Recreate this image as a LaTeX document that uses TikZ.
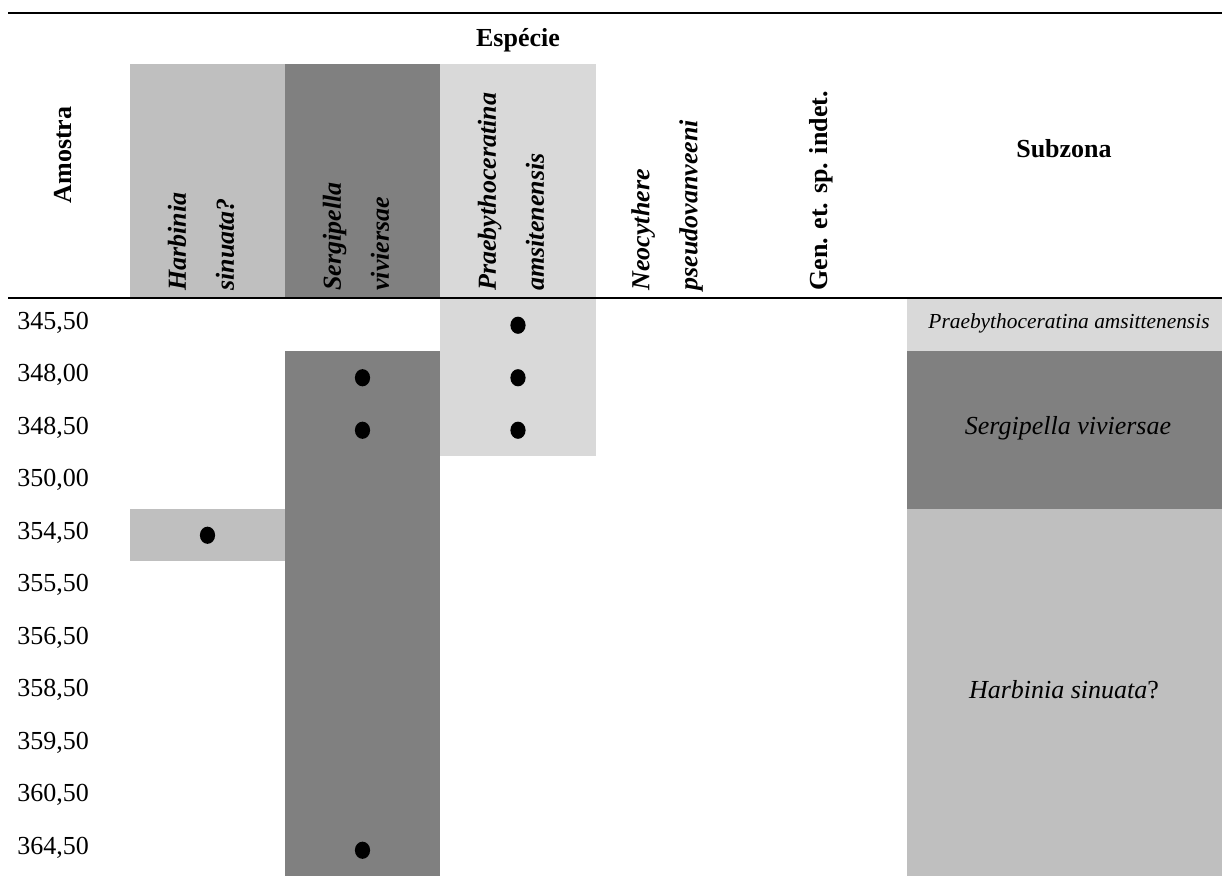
\documentclass[tikz,border=0pt]{standalone}
\usepackage{fontspec}
\setmainfont{Liberation Serif}
\usetikzlibrary{shapes.geometric}
\definecolor{gA}{HTML}{BFBFBF}
\definecolor{gB}{HTML}{808080}
\definecolor{gC}{HTML}{D9D9D9}
\begin{document}
\begin{tikzpicture}[x=0.5pt,y=-0.5pt,
  hdr/.style={font=\fontsize{13}{15}\selectfont\bfseries, inner sep=0},
  spname/.style={rotate=90, anchor=west, align=left, inner sep=0, font=\fontsize{13}{24}\selectfont\bfseries\itshape},
  val/.style={anchor=west, inner sep=0, font=\fontsize{13}{15}\selectfont},
  zone/.style={inner sep=0, font=\fontsize{13}{15}\selectfont\itshape},
  dotmark/.style={ellipse, fill=black, inner sep=0, minimum width=7.6pt, minimum height=8.6pt},
  rulel/.style={line width=1pt}]
\useasboundingbox (0,0) rectangle (1222,876);
% header boxes
\fill[gA] (130,64) rectangle (285,298);
\fill[gB] (285,64) rectangle (440,298);
\fill[gC] (440,64) rectangle (596,298);
% data boxes
\fill[gC] (440,299) rectangle (596,456.5);
\fill[gB] (285,351.5) rectangle (440,876);
\fill[gA] (130,509) rectangle (285,561.5);
% rules
\draw[rulel] (8,13) -- (1222,13);
\draw[rulel] (8,298.5) -- (1222,298.5);
% subzone boxes
\fill[gC] (907,299.5) rectangle (1222,351.5);
\fill[gB] (907,351.5) rectangle (1222,509);
\fill[gA] (907,509) rectangle (1222,876);
% headers
\node[hdr] (esp) at (518,40) {Espécie};
\node[hdr] (sub) at (1064,149) {Subzona};
\node[hdr, rotate=90] (amo) at (63,155) {Amostra};
\node[spname] (h1) at (201,291) {Harbinia\\sinuata?};
\node[spname] (h2) at (356,291) {Sergipella\\viviersae};
\node[spname] (h3) at (511,291) {Praebythoceratina\\amsitenensis};
\node[spname] (h4) at (667,291) {Neocythere\\pseudovanveeni};
\node[spname, font=\fontsize{13}{24}\selectfont\bfseries] (h5) at (821,291) {Gen. et. sp. indet.};
% row labels
\foreach \v [count=\i] in {{345,50},{348,00},{348,50},{350,00},{354,50},{355,50},{356,50},{358,50},{359,50},{360,50},{364,50}}
  \node[val] (r\i) at (17,{299+52.5*(\i-0.5)-2.5}) {\v};
% occurrences
\node[dotmark] (d1) at (518,325.25) {};
\node[dotmark] (d2) at (362.5,377.75) {};
\node[dotmark] (d3) at (518,377.75) {};
\node[dotmark] (d4) at (362.5,430.25) {};
\node[dotmark] (d5) at (518,430.25) {};
\node[dotmark] (d6) at (207.5,535.25) {};
\node[dotmark] (d7) at (362.5,850.25) {};
% subzones
\node[zone, font=\fontsize{10.7}{13}\selectfont\itshape] (z1) at (1069,323) {Praebythoceratina amsittenensis};
\node[zone] (z2) at (1068,428) {Sergipella viviersae};
\node[zone, font=\fontsize{13}{15}\selectfont] (z3) at (1064,690) {\textit{Harbinia sinuata}?};
\end{tikzpicture}
\end{document}
